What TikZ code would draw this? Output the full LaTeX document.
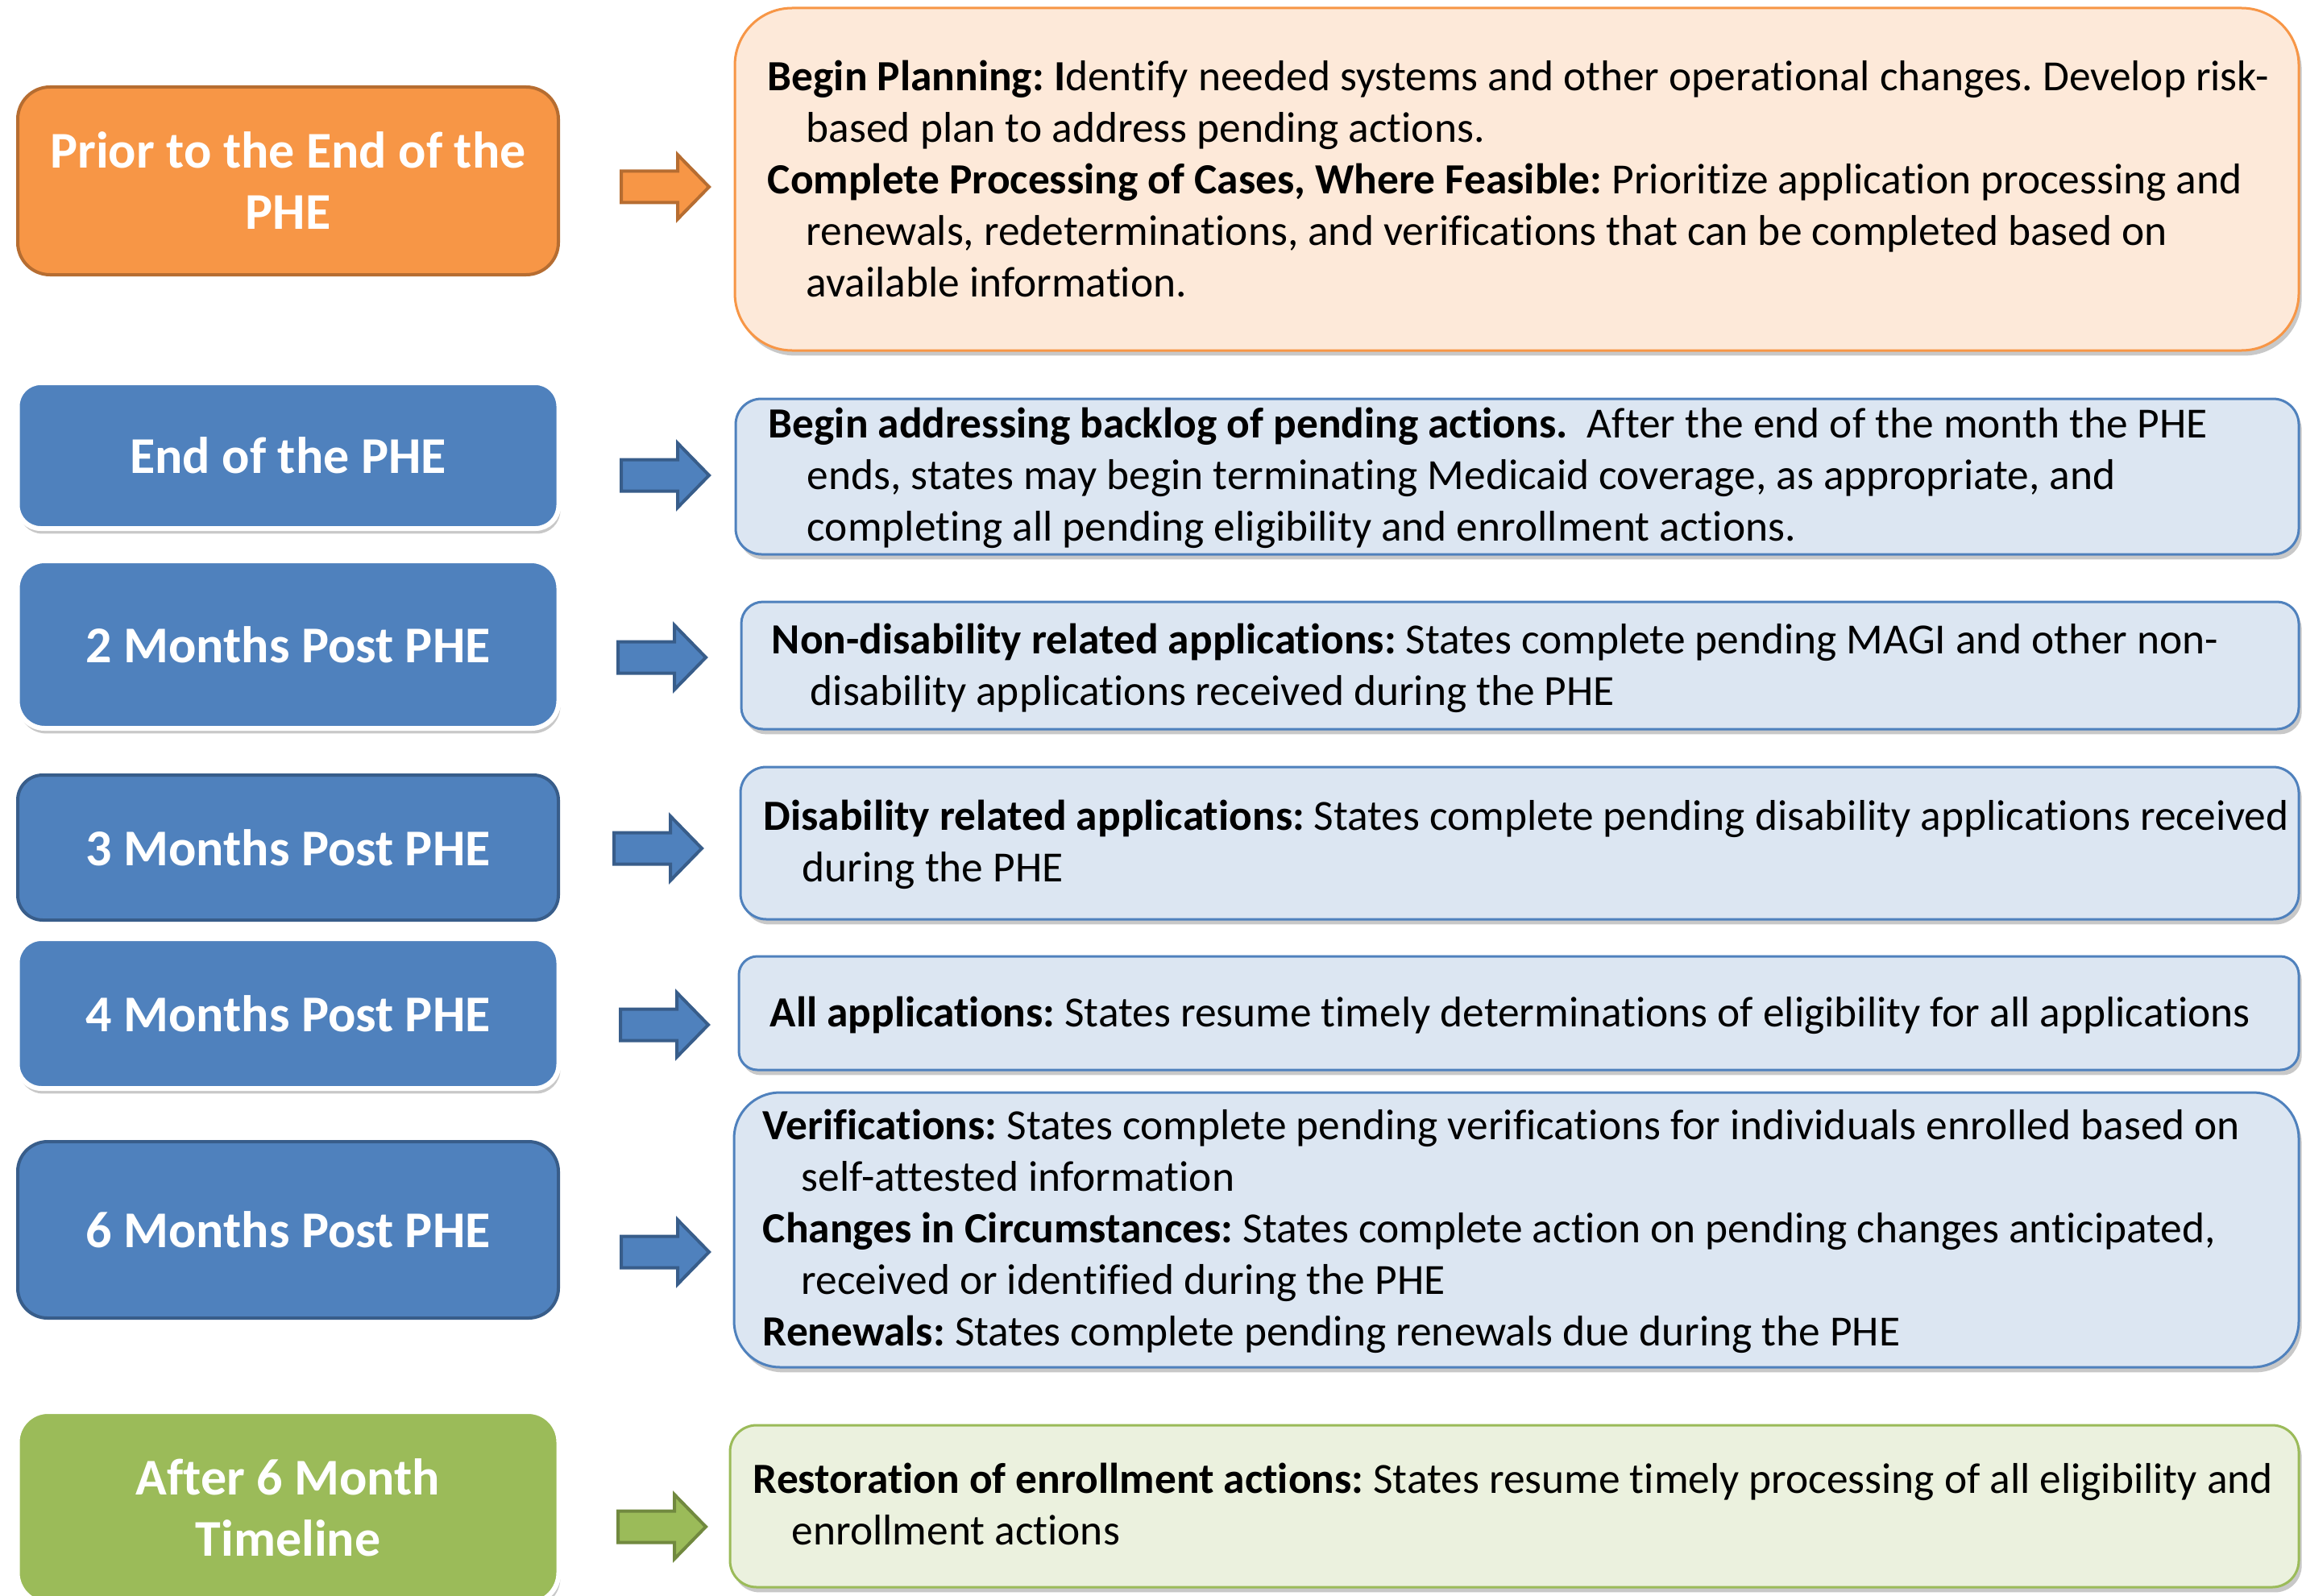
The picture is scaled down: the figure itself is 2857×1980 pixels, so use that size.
\documentclass[tikz,border=0pt]{standalone}
\usepackage{fontspec}
\setmainfont{Carlito}[Ligatures={TeX,NoCommon}]
\usetikzlibrary{shadows}

\definecolor{orangeD}{HTML}{B66D31}
\definecolor{orangeF}{HTML}{F79646}
\definecolor{orangeL}{HTML}{FDE9D9}
\definecolor{blueD}{HTML}{385D8A}
\definecolor{blueF}{HTML}{4F81BD}
\definecolor{blueL}{HTML}{DCE6F2}
\definecolor{greenD}{HTML}{71893F}
\definecolor{greenF}{HTML}{9BBB59}
\definecolor{greenL}{HTML}{EBF1DE}

% one drawing unit is one pixel of the final image
\newcommand\unitpx{0.25pt}
% indent of the wrapped lines in the description boxes
\newcommand\wrapline{\hspace*{12pt}}

% block arrow: name, tail x, centre y, style
\newcommand\blockarrow[4]{%
  \coordinate (#1) at (#2,#3);
  \draw[#4] (#1) ++(0,-19.5) -- ++(70,0) -- ++(0,-20.5) -- ++(39,40)
     -- ++(-39,40) -- ++(0,-20.5) -- ++(-70,0) -- cycle;}

\begin{document}
\frenchspacing
\begin{tikzpicture}[x=0.25pt,y=-0.25pt,
  lbox/.style={rectangle, inner sep=0pt, text=white, align=center,
    font=\fontsize{16pt}{19pt}\selectfont\bfseries},
  lshadow/.style={drop shadow={shadow xshift=0.5pt, shadow yshift=-1.6pt,
    opacity=0.3, fill=black!70}},
  lorange/.style={lbox, fill=orangeF, draw=orangeD, line width=1pt},
  lbluedark/.style={lbox, fill=blueF, draw=blueD, line width=1pt},
  lbluewhite/.style={lbox, fill=blueF, draw=white, line width=1.5pt, lshadow},
  lgreen/.style={lbox, fill=greenF, draw=white, line width=1.5pt, lshadow},
  rshadow/.style={drop shadow={shadow xshift=0.9pt, shadow yshift=-1.6pt,
    opacity=0.3, fill=black!70}},
  rbox/.style={rectangle, inner sep=0pt, line width=0.75pt, rshadow},
  rorange/.style={rbox, fill=orangeL, draw=orangeF},
  rblue/.style={rbox, fill=blueL, draw=blueF},
  rgreen/.style={rbox, fill=greenL, draw=greenF},
  rtext/.style={inner sep=0pt, align=left, anchor=north west, text=black,
    font=\fontsize{13.35pt}{16pt}\selectfont},
  arrorange/.style={fill=orangeF, draw=orangeD, line width=1pt},
  arrblue/.style={fill=blueF, draw=blueD, line width=1pt},
  arrgreen/.style={fill=greenF, draw=greenD, line width=1pt}]

\fill[white] (0,0) rectangle (2857,1980);
\useasboundingbox (0,0) rectangle (2857,1980);

% ---------- stage boxes (left column) ----------
\node[lorange, minimum width=671*\unitpx, minimum height=233*\unitpx,
  rounded corners=40*\unitpx] (prior) at (357.5,224.5) {Prior to the End of the\\PHE};
\node[lbluewhite, minimum width=672*\unitpx, minimum height=181*\unitpx,
  rounded corners=29*\unitpx] (endphe) at (357.5,565.5) {End of the PHE};
\node[lbluewhite, minimum width=672*\unitpx, minimum height=208*\unitpx,
  rounded corners=34*\unitpx] (m2) at (357.5,800) {2 Months Post PHE};
\node[lbluedark, minimum width=671*\unitpx, minimum height=180*\unitpx,
  rounded corners=31*\unitpx] (m3) at (357.5,1052) {3 Months Post PHE};
\node[lbluewhite, minimum width=672*\unitpx, minimum height=186*\unitpx,
  rounded corners=30*\unitpx] (m4) at (357.5,1258) {4 Months Post PHE};
\node[lbluedark, minimum width=671*\unitpx, minimum height=219*\unitpx,
  rounded corners=37*\unitpx] (m6) at (357.5,1526.5) {6 Months Post PHE};
\node[lgreen, minimum width=672*\unitpx, minimum height=238*\unitpx,
  rounded corners=38*\unitpx] (after) at (357.5,1871) {After 6 Month\\Timeline};

% ---------- block arrows ----------
\blockarrow{a1}{771}{232}{arrorange}
\blockarrow{a2}{771}{590}{arrblue}
\blockarrow{a3}{767}{816}{arrblue}
\blockarrow{a4}{762}{1053}{arrblue}
\blockarrow{a5}{770}{1272}{arrblue}
\blockarrow{a6}{771}{1554}{arrblue}
\blockarrow{a7}{767}{1895}{arrgreen}

% ---------- description boxes (right column) ----------
\node[rorange, minimum width=1941*\unitpx, minimum height=425*\unitpx,
  rounded corners=71*\unitpx] (dprior) at (1882.5,222.5) {};
\node[rblue, minimum width=1940*\unitpx, minimum height=193*\unitpx,
  rounded corners=32*\unitpx] (dend) at (1883,591.5) {};
\node[rblue, minimum width=1933*\unitpx, minimum height=158*\unitpx,
  rounded corners=27*\unitpx] (dm2) at (1886.5,826) {};
\node[rblue, minimum width=1934*\unitpx, minimum height=189*\unitpx,
  rounded corners=32*\unitpx] (dm3) at (1886,1046.5) {};
\node[rblue, minimum width=1936*\unitpx, minimum height=141*\unitpx,
  rounded corners=23*\unitpx] (dm4) at (1885,1257.5) {};
\node[rblue, minimum width=1942*\unitpx, minimum height=341*\unitpx,
  rounded corners=57*\unitpx] (dm6) at (1882,1526.5) {};
\node[rgreen, minimum width=1947*\unitpx, minimum height=201*\unitpx,
  rounded corners=33*\unitpx] (dafter) at (1879.5,1869.5) {};

% ---------- description texts ----------
\node[rtext] (tprior) at (952,67.2) {%
  \strut\textbf{Begin Planning: I}dentify needed systems and other operational changes. Develop risk-\\
  \strut\wrapline based plan to address pending actions.\\
  \strut\textbf{Complete Processing of Cases, Where Feasible:} Prioritize application processing and\\
  \strut\wrapline renewals, redeterminations, and verifications that can be completed based on\\
  \strut\wrapline available information.};
\node[rtext] (tend) at (953,498.2) {%
  \strut\textbf{Begin addressing backlog of pending actions.}~ After the end of the month the PHE\\
  \strut\wrapline ends, states may begin terminating Medicaid coverage, as appropriate, and\\
  \strut\wrapline completing all pending eligibility and enrollment actions.};
\node[rtext] (tm2) at (957,766.2) {%
  \strut\textbf{Non-disability related applications:} States complete pending MAGI and other non-\\
  \strut\wrapline disability applications received during the PHE};
\node[rtext] (tm3) at (947,985.2) {%
  \strut\textbf{Disability related applications:} States complete pending disability applications received\\
  \strut\wrapline during the PHE};
\node[rtext] (tm4) at (955,1229.2) {%
  \strut\textbf{All applications:} States resume timely determinations of eligibility for all applications};
\node[rtext] (tm6) at (946,1369.2) {%
  \strut\textbf{Verifications:} States complete pending verifications for individuals enrolled based on\\
  \strut\wrapline self-attested information\\
  \strut\textbf{Changes in Circumstances:} States complete action on pending changes anticipated,\\
  \strut\wrapline received or identified during the PHE\\
  \strut\textbf{Renewals:} States complete pending renewals due during the PHE};
\node[rtext] (tafter) at (934,1808.2) {%
  \strut\textbf{Restoration of enrollment actions:} States resume timely processing of all eligibility and\\
  \strut\wrapline enrollment actions};

\end{tikzpicture}
\end{document}
